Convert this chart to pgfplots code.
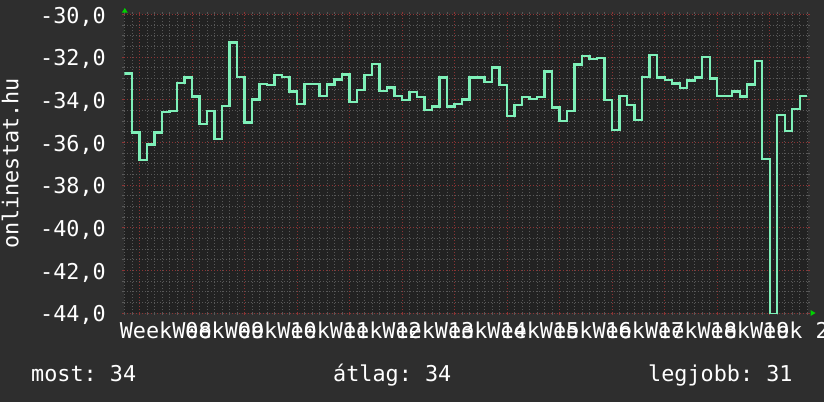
\documentclass[border=0pt]{standalone}
\usepackage{pgfplots}
\pgfplotsset{compat=1.18}
\usetikzlibrary{backgrounds}
\usepackage{fontspec}
\setmainfont{DejaVu Sans Mono}
\frenchspacing
\definecolor{bgout}{RGB}{46,46,46}
\definecolor{bgplot}{RGB}{34,34,34}
\definecolor{gridmin}{RGB}{88,88,88}
\definecolor{gridmaj}{RGB}{140,52,52}
\definecolor{linegreen}{RGB}{126,240,184}
\definecolor{arrowgreen}{RGB}{0,210,0}
\newcommand\tksize{\fontsize{21.8}{25}\selectfont}

\begin{document}
\begin{tikzpicture}
\begin{axis}[
    scale only axis, width=683.5pt, height=298.5pt,
    xmin=0, xmax=91.1, ymin=-44, ymax=-30,
    axis background/.style={fill=bgplot},
    axis line style={draw=none},
    xtick={2,9,...,86}, xticklabels={},
    minor xtick={0,1,3,4,5,6,7,8,10,11,12,13,14,15,17,18,19,20,21,22,24,25,26,27,28,29,
                 31,32,33,34,35,36,38,39,40,41,42,43,45,46,47,48,49,50,52,53,54,55,56,57,
                 59,60,61,62,63,64,66,67,68,69,70,71,73,74,75,76,77,78,80,81,82,83,84,85,
                 87,88,89,90,91},
    ytick={-44,-42,...,-30},
    minor y tick num=3,
    yticklabels={{-44,0},{-42,0},{-40,0},{-38,0},{-36,0},{-34,0},{-32,0},{-30,0}},
    grid=both,
    major grid style={dash pattern=on 1pt off 2pt, draw=gridmaj, line width=1pt},
    minor grid style={dash pattern=on 1pt off 2pt, draw=gridmin, line width=1pt},
    tick align=outside,
    major tick length=2pt, minor tick length=2pt,
    major tick style={draw=gridmaj, line width=1pt},
    minor tick style={draw=gridmin, line width=1pt},
    yticklabel style={font=\tksize, text=white, anchor=base east, inner sep=0pt, xshift=-16.5pt, yshift=-8.8pt},
    xticklabel style={font=\tksize, text=white, anchor=base, inner sep=0pt, yshift=-25.3pt},
    extra x ticks={5.5,12.5,...,89.5},
    extra x tick labels={Week 08,Week 09,Week 10,Week 11,Week 12,Week 13,Week 14,
                         Week 15,Week 16,Week 17,Week 18,Week 19,Week 20},
    extra x tick style={grid=none, major tick length=0pt},
]
\addplot[const plot, draw=linegreen, line width=2.4pt] coordinates {
(0,-32.76)(1,-35.53)(2,-36.82)(3,-36.09)(4,-35.54)(5,-34.58)(6,-34.52)(7,-33.21)
(8,-32.96)(9,-33.85)(10,-35.14)(11,-34.53)(12,-35.84)(13,-34.28)(14,-31.32)(15,-32.92)
(16,-35.07)(17,-33.98)(18,-33.26)(19,-33.31)(20,-32.84)(21,-32.92)(22,-33.62)(23,-34.20)
(24,-33.26)(25,-33.26)(26,-33.82)(27,-33.29)(28,-33.04)(29,-32.82)(30,-34.09)(31,-33.54)
(32,-32.84)(33,-32.32)(34,-33.59)(35,-33.43)(36,-33.82)(37,-34.00)(38,-33.64)(39,-33.87)
(40,-34.48)(41,-34.31)(42,-32.96)(43,-34.32)(44,-34.20)(45,-33.98)(46,-32.96)(47,-32.96)
(48,-33.17)(49,-32.49)(50,-33.31)(51,-34.75)(52,-34.24)(53,-33.87)(54,-33.95)(55,-33.88)
(56,-32.68)(57,-34.37)(58,-34.99)(59,-34.53)(60,-32.35)(61,-31.95)(62,-32.10)(63,-32.04)
(64,-34.00)(65,-35.42)(66,-33.82)(67,-34.24)(68,-34.95)(69,-32.93)(70,-31.90)(71,-32.96)
(72,-33.06)(73,-33.24)(74,-33.46)(75,-33.10)(76,-32.96)(77,-31.98)(78,-33.01)(79,-33.81)
(80,-33.81)(81,-33.62)(82,-33.85)(83,-33.29)(84,-32.17)(85,-36.78)(86,-44.05)(87,-34.71)
(88,-35.45)(89,-34.42)(90,-33.82)(91,-33.82)
};
\coordinate (o) at (rel axis cs:0,0);
\end{axis}
% everything else in pixel units, origin at the image's bottom-left corner
\begin{scope}[shift={(o)}, x=1pt, y=1pt, shift={(-124.5,-89)}]
  \begin{scope}[on background layer]
    \fill[bgout] (0,0) rectangle (824,402);
  \end{scope}
  \fill[arrowgreen] (121.8,389.3) -- (127.8,389.3) -- (124.8,394) -- cycle;
  \fill[arrowgreen] (810.5,92) -- (810.5,86) -- (815.5,89) -- cycle;
  \node[rotate=90, anchor=base, font=\tksize, text=white, inner sep=0pt] at (18.5,238.5) {onlinestat.hu};
  \node[anchor=base west, font=\tksize, text=white, inner sep=0pt] at (31,20.3) {most: 34};
  \node[anchor=base west, font=\tksize, text=white, inner sep=0pt] at (333,20.3) {átlag: 34};
  \node[anchor=base west, font=\tksize, text=white, inner sep=0pt] at (648,20.3) {legjobb: 31};
  \pgfresetboundingbox
  \useasboundingbox (0,0) rectangle (824,402);
\end{scope}
\end{tikzpicture}
\end{document}
